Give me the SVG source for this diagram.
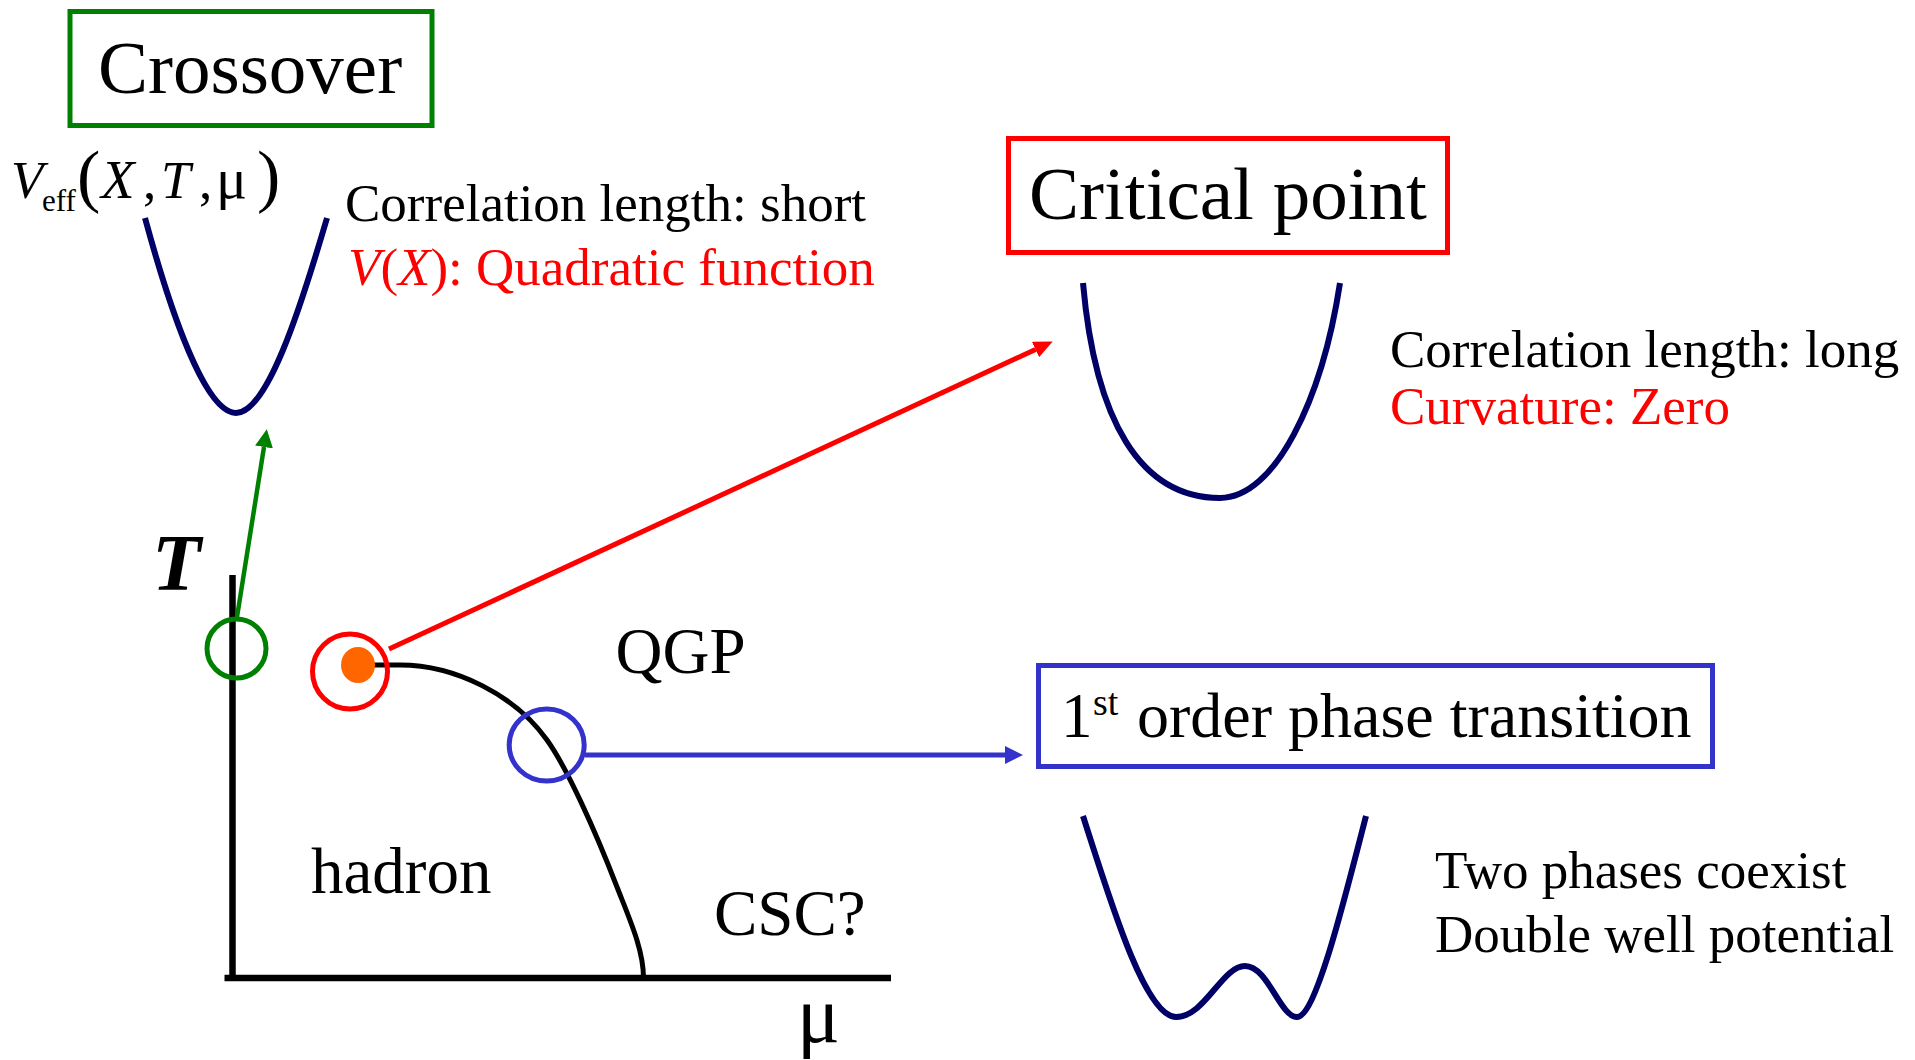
<svg xmlns="http://www.w3.org/2000/svg" width="1915" height="1060" viewBox="0 0 1915 1060">
<style>
text{font-family:"Liberation Serif","Times New Roman",serif;fill:#000}
.t53{font-size:53px}
.t65{font-size:65px}
.t75{font-size:75px}
.red{fill:#FF0000}
.it{font-style:italic}
.pot{fill:none;stroke:#000066;stroke-width:6;stroke-linecap:butt}
.box{fill:none;stroke-width:5}
.ring{fill:none;stroke-width:5}
.axis{stroke:#000;stroke-width:6.5;fill:none}
</style>
<defs>
<marker id="arG" markerUnits="userSpaceOnUse" markerWidth="18" markerHeight="18" refX="0" refY="9" orient="auto"><path d="M0,0 L18,9 L0,18 z" fill="#008000"/></marker>
<marker id="arR" markerUnits="userSpaceOnUse" markerWidth="19" markerHeight="17" refX="0" refY="8.5" orient="auto"><path d="M0,0 L19,8.5 L0,17 z" fill="#FF0000"/></marker>
<marker id="arB" markerUnits="userSpaceOnUse" markerWidth="18" markerHeight="18" refX="0" refY="9" orient="auto"><path d="M0,0 L18,9 L0,18 z" fill="#3333CC"/></marker>
</defs>
<rect width="1915" height="1060" fill="#fff"/>

<g id="crossover">
<rect class="box" x="70" y="11.5" width="362" height="114" stroke="#008000"/>
<text class="t75" x="98" y="93">Crossover</text>
</g>

<g id="veff-label">
<text font-size="53"><tspan class="it" x="11" y="198">V</tspan><tspan x="42" y="211" font-size="31">eff</tspan><tspan x="77" y="199" font-size="70">(</tspan><tspan class="it" x="101" y="198" font-size="55">X</tspan><tspan x="143" y="198">,</tspan><tspan class="it" x="161" y="198">T</tspan><tspan x="199" y="198">,</tspan><tspan x="216" y="198" font-size="58">μ</tspan><tspan x="257" y="199" font-size="70">)</tspan></text>
</g>

<g id="crossover-potential">
<path class="pot" d="M145 218 C170 310 205 413 236 413 C267 413 300 310 327 218"/>
</g>

<g id="crossover-text">
<text class="t53" x="345" y="221">Correlation length: short</text>
<text class="t53 red" x="348" y="285"><tspan class="it">V</tspan>(<tspan class="it">X</tspan>): Quadratic function</text>
</g>

<g id="critical">
<rect class="box" x="1008.5" y="138.5" width="439" height="114" stroke="#FF0000"/>
<text class="t75" x="1029" y="219">Critical point</text>
</g>

<g id="critical-potential">
<path class="pot" d="M1083 283 C1095 420 1140 498 1220 498 C1275 498 1322 400 1340 283"/>
</g>

<g id="critical-text">
<text class="t53" x="1390" y="366.5">Correlation length: long</text>
<text class="t53 red" x="1390" y="424">Curvature: Zero</text>
</g>

<g id="first-order">
<rect class="box" x="1038.5" y="665.5" width="674" height="101" stroke="#3333CC"/>
<text font-size="64"><tspan x="1061" y="737" font-size="63">1</tspan><tspan x="1093" y="715" font-size="38">st</tspan><tspan x="1137" y="737">order phase transition</tspan></text>
</g>

<g id="first-order-potential">
<path class="pot" d="M1083 816 C1110 900 1145 1017 1176 1017 C1205 1017 1222 966 1245 966 C1268 966 1280 1017 1297 1017 C1315 1017 1342 910 1366 816"/>
</g>

<g id="first-order-text">
<text class="t53" x="1435" y="888">Two phases coexist</text>
<text class="t53" x="1435" y="952">Double well potential</text>
</g>

<g id="phase-diagram">
<line class="axis" x1="232.5" y1="575" x2="232.5" y2="981"/>
<line class="axis" x1="224.5" y1="978" x2="891" y2="978"/>
<path d="M373 665 L400 665 C455 665 515 695 547 740 C567 768 595 830 617 887 C630 920 643.5 950 643.5 978" fill="none" stroke="#000" stroke-width="5"/>
<text x="152" y="590" font-size="80" font-weight="bold" font-style="italic">T</text>
<text x="797" y="1042" font-size="80">μ</text>
<text class="t65" x="615.5" y="673">QGP</text>
<text class="t65" x="311" y="893">hadron</text>
<text class="t65" x="714" y="935">CSC?</text>
</g>

<g id="crossover-point">
<circle class="ring" cx="236.5" cy="648.5" r="29.5" stroke="#008000"/>
</g>

<g id="critical-point">
<ellipse cx="358" cy="665" rx="17" ry="18" fill="#FF6600"/>
<circle class="ring" cx="350" cy="671.5" r="37.5" stroke="#FF0000"/>
</g>

<g id="first-order-point">
<ellipse class="ring" cx="546.7" cy="745" rx="37.5" ry="36" stroke="#3333CC"/>
</g>

<g id="connectors">
<line x1="237" y1="617" x2="264" y2="447" stroke="#008000" stroke-width="4.5" marker-end="url(#arG)"/>
<line x1="389" y1="649" x2="1035.5" y2="349.5" stroke="#FF0000" stroke-width="5" marker-end="url(#arR)"/>
<line x1="585" y1="755" x2="1005" y2="755" stroke="#3333CC" stroke-width="5" marker-end="url(#arB)"/>
</g>
</svg>
